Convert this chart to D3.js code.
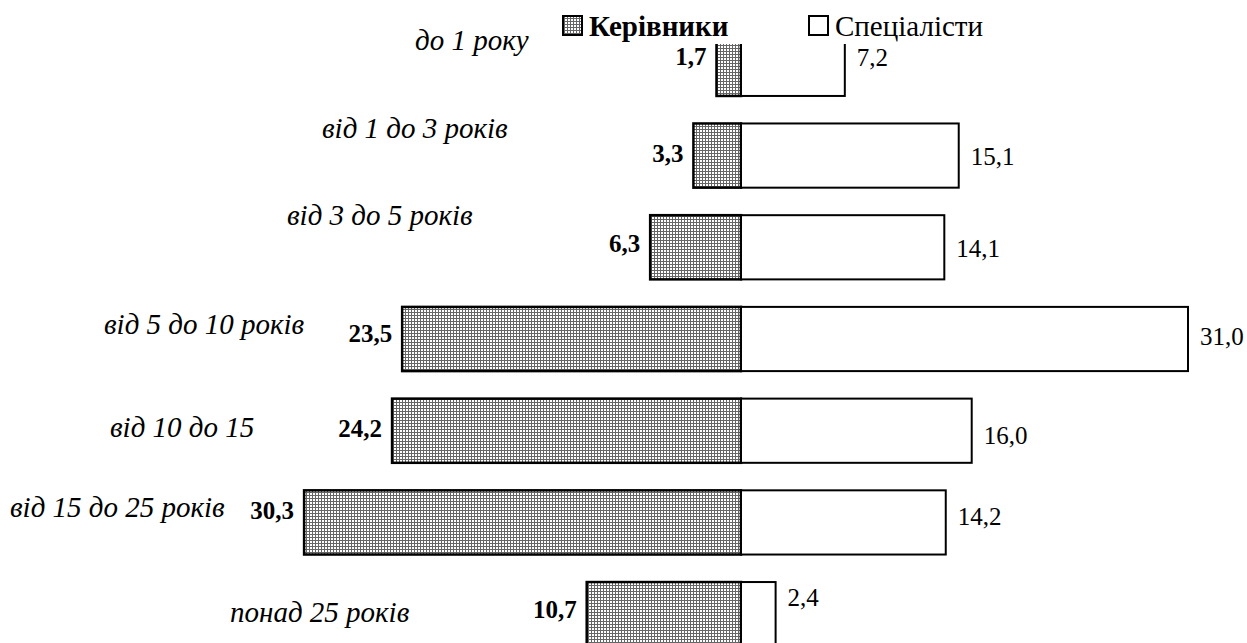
<!DOCTYPE html>
<html>
<head>
<meta charset="utf-8">
<script src="https://cdn.jsdelivr.net/npm/d3@7"></script>
<style>
  body { margin: 0; background: #fff; }
  svg text { font-family: "Liberation Serif", "DejaVu Serif", "Times New Roman", serif; }
</style>
</head>
<body>
<svg id="chart" width="1247" height="643"></svg>
<script>
// data
var categories = ["до 1 року", "від 1 до 3 років", "від 3 до 5 років", "від 5 до 10 років",
  "від 10 до 15", "від 15 до 25 років", "понад 25 років"];
var managers = [1.7, 3.3, 6.3, 23.5, 24.2, 30.3, 10.7];
var specialists = [7.2, 15.1, 14.1, 31.0, 16.0, 14.2, 2.4];
var seriesNames = ["Керівники", "Спеціалісти"];

// layout: captions float freely, value labels sit a bit off centre (pixels)
var labelX = [415, 322, 287, 104, 110, 10, 230];
var labelDy = [-14, -18, -22, -5, 6, -5, 8];
var leftDy = [-7, -2, -4, -5, -2, -12, -4];
var rightDy = [-6, 1, 1, -2, 5, -6, -16];

var svg = d3.select("#chart");
var zeroX = 741;

var x = d3.scaleLinear().domain([0, 31]).range([0, 447]);
var y = d3.scaleBand().domain(categories).range([18, 660]).paddingInner(0.3).paddingOuter(0.15);
var mid = function (d) { return y(d) + y.bandwidth() / 2; };

var fmt = function (v) { return d3.format(".1f")(v).replace(".", ","); };

//hatch pattern for managers
var defs = svg.append("defs");
var pat = defs.append("pattern")
  .attr("id", "grid")
  .attr("patternUnits", "userSpaceOnUse")
  .attr("width", 3).attr("height", 3);
pat.append("rect").attr("width", 3).attr("height", 3).attr("fill", "#fff");
pat.append("path").attr("d", "M0,0.5H3M0.5,0V3")
  .attr("stroke", "#666").attr("stroke-width", 1).attr("shape-rendering", "crispEdges");

var rows = svg.append("g").selectAll("g")
  .data(categories)
  .enter().append("g");

// managers (left)
rows.append("rect")
  .attr("x", function (d, i) { return zeroX - x(managers[i]); })
  .attr("y", function (d) { return y(d); })
  .attr("width", function (d, i) { return x(managers[i]); })
  .attr("height", y.bandwidth())
  .attr("fill", "url(#grid)")
  .attr("stroke", "#000")
  .attr("stroke-width", 2.5);

// specialists (right)
rows.append("rect")
  .attr("x", zeroX)
  .attr("y", function (d) { return y(d); })
  .attr("width", function (d, i) { return x(specialists[i]); })
  .attr("height", y.bandwidth())
  .attr("fill", "#fff")
  .attr("stroke", "#000")
  .attr("stroke-width", 2);

// value labels
rows.append("text")
  .attr("x", function (d, i) { return zeroX - x(managers[i]) - 10; })
  .attr("y", function (d, i) { return mid(d) + leftDy[i]; })
  .attr("dy", "0.33em")
  .attr("text-anchor", "end")
  .attr("font-weight", "bold")
  .attr("font-size", 25)
  .text(function (d, i) { return fmt(managers[i]); });

rows.append("text")
  .attr("x", function (d, i) { return zeroX + x(specialists[i]) + 12; })
  .attr("y", function (d, i) { return mid(d) + rightDy[i]; })
  .attr("dy", "0.33em")
  .attr("font-size", 25)
  .text(function (d, i) { return fmt(specialists[i]); });

// category captions (y is the baseline)
rows.append("text")
  .attr("x", function (d, i) { return labelX[i]; })
  .attr("y", function (d, i) { return mid(d) + labelDy[i]; })
  .attr("font-style", "italic")
  .attr("font-size", 29)
  .text(function (d) { return d; });

// legend on a white box that covers the top of the first bar
var legend = svg.append("g");
legend.append("rect")
  .attr("x", 558).attr("y", 0).attr("width", 432).attr("height", 44)
  .attr("fill", "#fff");

var items = [
  { name: seriesNames[0], fill: "url(#grid)", x: 563, bold: true },
  { name: seriesNames[1], fill: "#fff", x: 809, bold: false }
];
items.forEach(function (it) {
  legend.append("rect")
    .attr("x", it.x).attr("y", 16).attr("width", 19).attr("height", 19)
    .attr("fill", it.fill).attr("stroke", "#000").attr("stroke-width", 2);
  legend.append("text")
    .attr("x", it.x + 26).attr("y", 36)
    .attr("font-size", 29)
    .attr("font-weight", it.bold ? "bold" : "normal")
    .text(it.name);
});
</script>
</body>
</html>
